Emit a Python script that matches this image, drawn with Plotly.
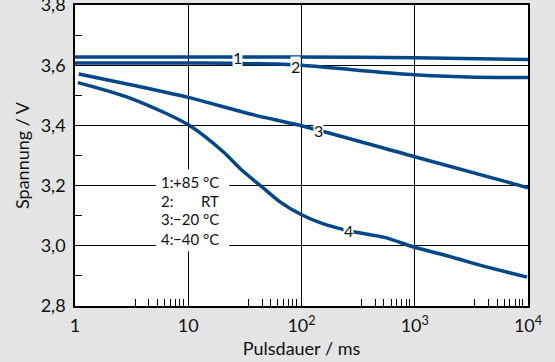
import numpy as np
import plotly.graph_objects as go

# ---- data ----
x1 = [1, 10, 100, 1000, 10000]
y1 = [3.627, 3.627, 3.627, 3.625, 3.619]

x2 = [1, 10, 30, 100, 300, 1000, 3000, 10000]
y2 = [3.607, 3.607, 3.606, 3.600, 3.584, 3.568, 3.561, 3.559]

x3 = [1.08, 3.1, 10, 36, 100, 1000, 10000]
y3 = [3.571, 3.535, 3.493, 3.437, 3.399, 3.296, 3.193]

x4 = [1.06, 3.1, 10, 20, 30, 45, 65, 100, 150, 260, 540, 1000, 2150, 3900, 9800]
y4 = [3.542, 3.49, 3.402, 3.315, 3.25, 3.195, 3.145, 3.103, 3.075, 3.05, 3.028,
      2.995, 2.962, 2.934, 2.896]

curve_labels = ["1", "2", "3", "4"]
label_x = [27.4, 88, 142, 260]
label_y = [3.627, 3.595, 3.383, 3.05]

legend_nums = ["1:", "2:", "3:", "4:"]
legend_vals = ["+85 °C", "RT", "\u221220 °C", "\u221240 °C"]
legend_y = [3.213, 3.149, 3.088, 3.022]

x_tickvals = [1, 10, 100, 1000, 10000]
x_ticktext = ["1", "10", "10<sup>2</sup>", "10<sup>3</sup>", "10<sup>4</sup>"]
x_minor_base = [3.4, 4.5, 5.35, 6.2, 6.9, 7.7, 8.4, 9.0]
y_tickvals = [2.8, 3.0, 3.2, 3.4, 3.6, 3.8]
y_minor = [2.9, 3.1, 3.3, 3.5, 3.7]

BLUE = "#00478a"
FONT = "Lato"

fig = go.Figure()
for xs, ys in [(x1, y1), (x2, y2), (x3, y3), (x4, y4)]:
    fig.add_trace(go.Scatter(x=xs, y=ys, mode="lines",
                             line=dict(color=BLUE, width=3.5, shape="spline", smoothing=0.8),
                             showlegend=False, hoverinfo="skip"))

annotations = []
for t, lx, ly in zip(curve_labels, label_x, label_y):
    annotations.append(dict(x=np.log10(lx), y=ly, text=t, showarrow=False,
                            bgcolor="white", borderpad=0,
                            font=dict(family=FONT, size=16, color="#111")))

# legend block
for n, v, ly in zip(legend_nums, legend_vals, legend_y):
    annotations.append(dict(x=0.745, y=ly, text=n, showarrow=False, xanchor="left",
                            font=dict(family=FONT, size=15, color="#111")))
    annotations.append(dict(x=1.29, y=ly, text=v, showarrow=False, xanchor="right",
                            font=dict(family=FONT, size=15, color="#111")))

shapes = [dict(type="rect", xref="x", yref="y", x0=5.17, x1=23, y0=2.982, y1=3.254,
               fillcolor="white", line=dict(width=0), layer="between")]

x_minor = [b * 10 ** k for k in range(4) for b in x_minor_base]

fig.update_layout(
    width=555, height=362,
    margin=dict(l=74.5, r=27.3, t=4.5, b=56, autoexpand=False),
    paper_bgcolor="#e3e4e3", plot_bgcolor="white",
    separators=", ",
    font=dict(family=FONT, size=18, color="#111"),
    annotations=annotations, shapes=shapes,
    xaxis=dict(type="log", range=[0, 4], tickvals=x_tickvals, ticktext=x_ticktext,
               showgrid=True, gridcolor="black", gridwidth=1,
               showline=True, linecolor="black", linewidth=1.5, mirror=True,
               ticks="", zeroline=False, automargin=False, ticklabelstandoff=3,
               ticklabeloverflow="allow",
               title=dict(text="Pulsdauer / ms", font=dict(size=18), standoff=7),
               minor=dict(tickvals=x_minor, ticks="inside", ticklen=7,
                          tickcolor="black", tickwidth=1, showgrid=False)),
    yaxis=dict(range=[2.8, 3.8], tickvals=y_tickvals, tickformat=".1f",
               showgrid=True, gridcolor="black", gridwidth=1,
               showline=True, linecolor="black", linewidth=1.5, mirror=True,
               ticks="", zeroline=False, automargin=False, ticklabelstandoff=4,
               ticklabeloverflow="allow",
               title=dict(text="Spannung / V", font=dict(size=18), standoff=6),
               minor=dict(tickvals=y_minor, ticks="inside", ticklen=7,
                          tickcolor="black", tickwidth=1, showgrid=False)),
)

fig.write_html("out.html", config={"displayModeBar": False},
               post_script="document.body.style.margin='0';document.body.style.overflow='hidden';")
